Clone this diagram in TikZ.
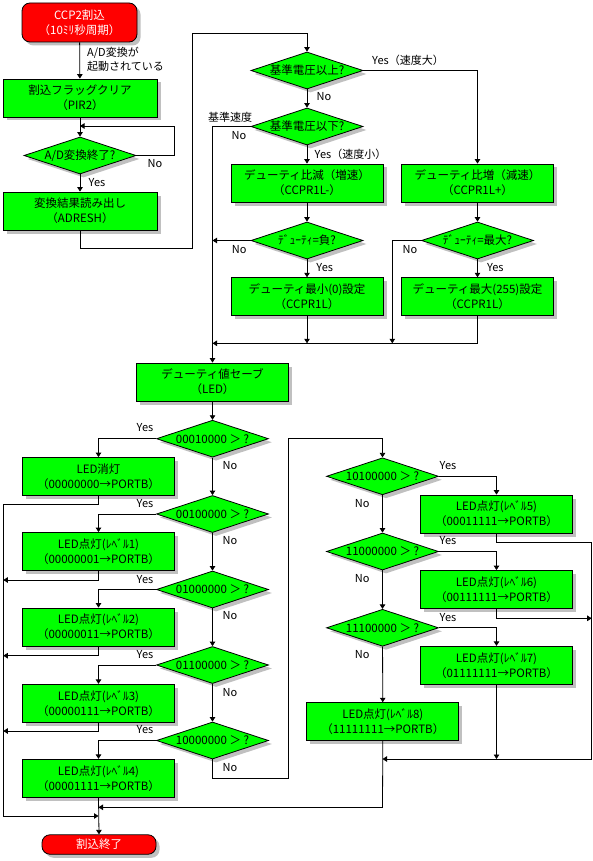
\documentclass[tikz,border=0pt]{standalone}
\usepackage{fontspec}
\setmainfont{Noto Sans CJK JP}
\usetikzlibrary{arrows.meta,shadows,shapes.geometric}
\definecolor{boxgreen}{HTML}{00FF00}
\definecolor{termred}{HTML}{FF0000}
\definecolor{shadowgray}{HTML}{C0C0C0}
\tikzset{
  base/.style={draw=black, line width=0.8pt, inner sep=0pt, align=center,
    font=\fontsize{11.5}{15}\selectfont,
    drop shadow={shadow xshift=3.5pt, shadow yshift=-3.5pt, fill=shadowgray, opacity=1}},
  procbox/.style={base, rectangle, fill=boxgreen, minimum width=152pt, minimum height=38pt},
  widebox/.style={procbox, minimum width=154pt},
  decide/.style={base, diamond, fill=boxgreen, minimum width=112pt, minimum height=37pt},
  term/.style={base, rectangle, rounded corners=8pt, fill=termred, text=white},
  lbl/.style={font=\fontsize{11}{14}\selectfont, inner sep=0pt},
  conn/.style={draw=black, line width=0.8pt},
  arr/.style={conn, -{Triangle[length=4.5pt,width=5.5pt]}},
}
\newcommand{\dtext}[1]{\makebox[0pt]{#1}}
\begin{document}
\begin{tikzpicture}[x=1pt,y=-1pt]
\useasboundingbox (0,0) rectangle (593,861);
% ---------- left top column ----------
\node[term, minimum width=115pt, minimum height=39pt] (start) at (79.5,22.5) {CCP2割込\\（10ﾐﾘ秒周期）};
\node[widebox] (b1) at (80,98) {割込フラッグクリア\\（PIR2）};
\node[decide] (d1) at (80,155.5) {\dtext{A/D変換終了?}};
\node[widebox] (b2) at (80,211) {変換結果読み出し\\（ADRESH）};
% ---------- upper right ----------
\node[decide] (d2) at (307,70.5) {\dtext{基準電圧以上?}};
\node[decide] (d3) at (307,126.5) {\dtext{基準電圧以下?}};
\node[procbox] (b3) at (307,183) {デューティ比減（増速）\\（CCPR1L-）};
\node[procbox] (b4) at (477.5,183) {デューティ比増（減速）\\（CCPR1L+）};
\node[decide] (d4) at (307,240.5) {\dtext{ﾃﾞｭｰﾃｨ=負?}};
\node[decide] (d5) at (477.5,240.5) {\dtext{ﾃﾞｭｰﾃｨ=最大?}};
\node[procbox] (b5) at (307,296.7) {デューティ最小(0)設定\\（CCPR1L）};
\node[procbox] (b6) at (477.5,296.7) {デューティ最大(255)設定\\（CCPR1L）};
\node[procbox] (b7) at (212.5,382) {デューティ値セーブ\\（LED）};
% ---------- LED decisions, left ----------
\node[decide] (d6) at (212.5,438.7) {\dtext{00010000 ＞ ?}};
\node[decide] (d7) at (212.5,514) {\dtext{00100000 ＞ ?}};
\node[decide] (d8) at (212.5,589.5) {\dtext{01000000 ＞ ?}};
\node[decide] (d9) at (212.5,665) {\dtext{01100000 ＞ ?}};
\node[decide] (d10) at (212.5,740.5) {\dtext{10000000 ＞ ?}};
\node[procbox] (l0) at (98.5,476.5) {LED消灯\\（00000000→PORTB）};
\node[procbox] (l1) at (98.5,551.5) {LED点灯(ﾚﾍﾞﾙ1)\\（00000001→PORTB）};
\node[procbox] (l2) at (98.5,627) {LED点灯(ﾚﾍﾞﾙ2)\\（00000011→PORTB）};
\node[procbox] (l3) at (98.5,703.3) {LED点灯(ﾚﾍﾞﾙ3)\\（00000111→PORTB）};
\node[procbox] (l4) at (98.5,778.3) {LED点灯(ﾚﾍﾞﾙ4)\\（00001111→PORTB）};
\node[term, minimum width=114pt, minimum height=19.5pt] (end) at (99,844.5) {割込終了};
% ---------- LED decisions, right ----------
\node[decide] (d11) at (382.5,476.3) {\dtext{10100000 ＞ ?}};
\node[decide] (d12) at (382.5,551.5) {\dtext{11000000 ＞ ?}};
\node[decide] (d13) at (382.5,627.8) {\dtext{11100000 ＞ ?}};
\node[procbox] (l5) at (496.5,514) {LED点灯(ﾚﾍﾞﾙ5)\\（00011111→PORTB）};
\node[procbox] (l6) at (496.5,589.5) {LED点灯(ﾚﾍﾞﾙ6)\\（00111111→PORTB）};
\node[procbox] (l7) at (496.5,665.3) {LED点灯(ﾚﾍﾞﾙ7)\\（01111111→PORTB）};
\node[procbox] (l8) at (382.8,721.7) {LED点灯(ﾚﾍﾞﾙ8)\\（11111111→PORTB）};
% ---------- junction coordinates ----------
\coordinate (j1) at (80,126);
\coordinate (jsave) at (212.5,343.3);
\coordinate (jmid) at (307,343.3);
\coordinate (jright) at (392.3,343.3);
\coordinate (jd4) at (212.5,240.5);
\coordinate (jbot) at (98.5,816);
\coordinate (jbot2) at (98.5,807.3);
\coordinate (jr) at (382.5,759);
\coordinate (jr7) at (496.5,759);
\coordinate (jr6) at (591.7,618.3);
% ---------- connectors: top left ----------
\draw[arr] (start) -- (b1);
\draw[arr] (b1) -- (d1);
\draw[conn] (d1.east) -- (174,155.5) -- (174,126) -- (j1);
\draw[arr] (174,126) -- (j1);
\draw[arr] (d1) -- (b2);
\draw[arr] (b2.south) -- (80,248) -- (192.5,248) -- (192.5,33) -- (307,33) -- (d2.north);
% ---------- upper right ----------
\draw[arr] (d2.east) -| (b4.north);
\draw[arr] (d2) -- (d3);
\draw[arr] (d3.west) -- (212.5,126.5) -- (b7.north);
\draw[arr] (d3) -- (b3);
\draw[arr] (b3) -- (d4);
\draw[arr] (b4) -- (d5);
\draw[arr] (d4.west) -- (jd4);
\draw[arr] (d4) -- (b5);
\draw[arr] (d5) -- (b6);
\draw[arr] (d5.west) -| (jright);
\draw[arr] (b5.south) -- (jmid);
\draw[arr] (b6.south) |- (jsave);
% ---------- LED left ----------
\draw[arr] (b7) -- (d6);
\foreach \d/\l in {d6/l0,d7/l1,d8/l2,d9/l3,d10/l4}{
  \draw[arr] (\d.west) -| (\l.north);
}
\draw[arr] (d6) -- (d7);
\draw[arr] (d7) -- (d8);
\draw[arr] (d8) -- (d9);
\draw[arr] (d9) -- (d10);
\draw[conn] (l0.south) -- (98.5,504.3) -- (3.3,504.3) -- (3.3,816);
\draw[arr] (3.3,816) -- (jbot);
\draw[arr] (l1.south) -- (98.5,580) -- (3.3,580);
\draw[arr] (l2.south) -- (98.5,655.7) -- (3.3,655.7);
\draw[arr] (l3.south) -- (98.5,731) -- (3.3,731);
\draw[arr] (l4.south) -- (end.north);
\draw[arr] (d10.south) -- (212.5,778.3) -- (288.3,778.3) -- (288.3,438.3) -- (382.5,438.3) -- (d11.north);
% ---------- LED right ----------
\draw[arr] (d11.east) -| (l5.north);
\draw[arr] (d12.east) -| (l6.north);
\draw[arr] (d13.east) -| (l7.north);
\draw[arr] (d11) -- (d12);
\draw[arr] (d12) -- (d13);
\draw[arr] (d13) -- (l8);
\draw[conn] (l5.south) -- (496.5,542.3) -- (591.7,542.3) -- (591.7,759);
\draw[arr] (591.7,759) -- (jr);
\draw[arr] (l6.south) -- (496.5,618.3) -- (jr6);
\draw[arr] (l7.south) -- (jr7);
\draw[conn] (l8.south) -- (382.5,807.3);
\draw[arr] (382.5,807.3) -- (jbot2);
% ---------- labels ----------
\node[lbl, anchor=west, align=left] (t1) at (87,59) {A/D変換が\\起動されている};
\node[lbl] (t2) at (155,164) {No};
\node[lbl] (t3) at (97,183) {Yes};
\node[lbl] (t4) at (408,60) {Yes（速度大）};
\node[lbl] (t5) at (324,97) {No};
\node[lbl] (t6) at (230,117) {基準速度};
\node[lbl] (t7) at (239,135.5) {No};
\node[lbl] (t8) at (350.5,154) {Yes（速度小）};
\node[lbl] (t9) at (239.3,249.3) {No};
\node[lbl] (t10) at (324.7,267.3) {Yes};
\node[lbl] (t11) at (410,249.3) {No};
\node[lbl] (t12) at (495.3,267.3) {Yes};
\foreach \y [count=\i] in {428,504,579.3,655,730}{
  \node[lbl] (ly\i) at (145,\y) {Yes};
}
\foreach \y [count=\i] in {466,541,616,692.7,767.7}{
  \node[lbl] (ln\i) at (230,\y) {No};
}
\foreach \y [count=\i] in {465.7,541,617.3}{
  \node[lbl] (ry\i) at (448,\y) {Yes};
}
\foreach \y [count=\i] in {504,579,655}{
  \node[lbl] (rn\i) at (362.3,\y) {No};
}
\end{tikzpicture}
\end{document}
